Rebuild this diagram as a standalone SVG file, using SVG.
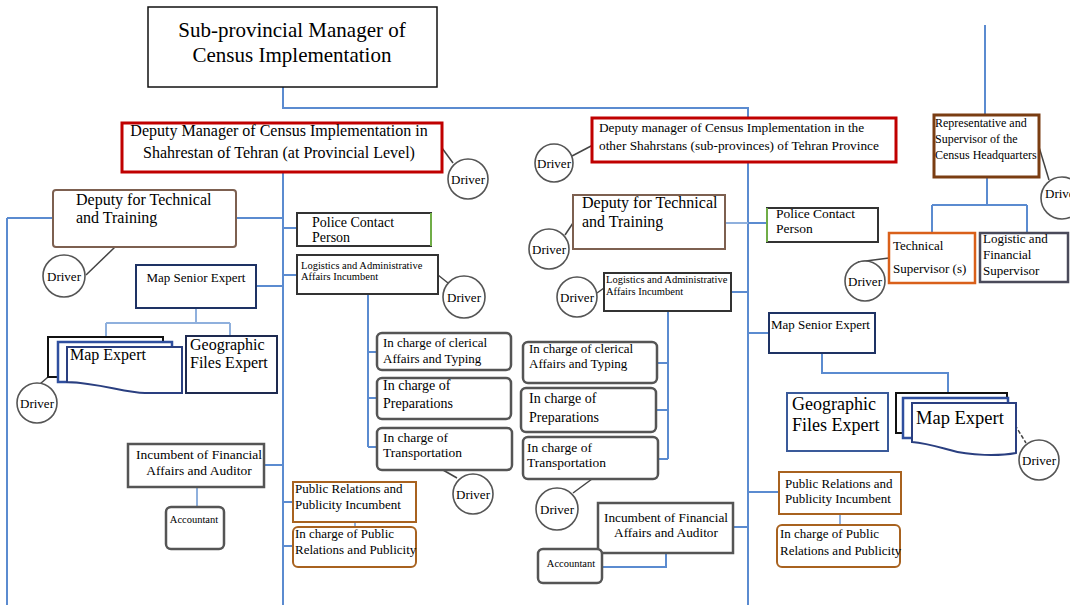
<svg xmlns="http://www.w3.org/2000/svg" width="1070" height="605" viewBox="0 0 1070 605">
<style>
text{font-family:"Liberation Serif","Times New Roman",serif;fill:#000}
.c{fill:none;stroke:#5b8bd0;stroke-width:2}
.cl{fill:none;stroke:#8fb0dd;stroke-width:2}
.dl{fill:none;stroke:#444;stroke-width:1.5}
.drv{fill:#fff;stroke:#555;stroke-width:1.6}
.dt{font-size:13px;text-anchor:middle}
.bx{fill:#fff;stroke:#555;stroke-width:2.5}
.red{fill:#fff;stroke:#c00000;stroke-width:3}
.brn{fill:#fff;stroke:#7d6050;stroke-width:2}
.navy{fill:#fff;stroke:#1e3264;stroke-width:2}
.org{fill:#fff;stroke:#a8621f;stroke-width:2}
.rnd{fill:#fff;stroke:#555;stroke-width:2.5}
</style>
<g id="connectors">
<path class="c" d="M283,87 V108 H748 V118"/>
<path class="c" d="M283,172 V605"/>
<path class="c" d="M748,162 V605"/>
<path class="c" d="M985,25 V115"/>
<path class="c" d="M987,177 V205 M932,205 H1027 M932,205 V233 M1027,205 V233"/>
<path class="c" d="M7,218 V605 M7,218 H53 M236,218 H283"/>
<path class="c" d="M283,228 H297 M283,275 H297 M256,286 H283"/>
<path class="cl" d="M196,308 V323 M106,323 H230 M106,323 V337 M230,323 V336"/>
<path class="c" d="M368,294 V447 M368,352 H377 M368,398 H377 M368,447 H377"/>
<path class="c" d="M264,465 H283"/>
<path class="cl" d="M197,487 V507"/>
<path class="c" d="M283,502 H293 M283,546 H293"/>
<path class="cl" d="M355,522 V527"/>
<path class="cl" d="M725,223 H748"/>
<path class="c" d="M731,292 H748 M748,223 H767 M748,333 H769"/>
<path class="c" d="M822,353 V373 H948 V393"/>
<path class="c" d="M668,311 V459 M657,363 H668 M656,410 H668 M658,459 H668"/>
<path class="c" d="M733,527 H748"/>
<path class="c" d="M666,553 V567 H602"/>
<path class="c" d="M748,492 H779"/>
<path class="cl" d="M840,514 V525"/>
<path class="dl" d="M115,247 L86,275"/>
<path class="dl" d="M48,377 L40,384"/>
<path class="dl" d="M442,148 L453,163"/>
<path class="dl" d="M438,275 L448,283"/>
<path class="dl" d="M443,470 L457,478"/>
<path class="dl" d="M572,156 L593,145"/>
<path class="dl" d="M573,223 L565,235"/>
<path class="dl" d="M604,288 L597,293"/>
<path class="dl" d="M592,479 L573,493"/>
<path class="dl" d="M1039,147 L1049,180"/>
<path class="dl" d="M889,258 L858,262"/>
<path class="dl" d="M1015,425 L1026,443" stroke-dasharray="4 2"/>
</g>
<g id="top"><rect x="148" y="7" width="289" height="80" fill="#fff" stroke="#111" stroke-width="1.5"/>
<text x="292" y="37" font-size="21" text-anchor="middle">Sub-provincial Manager of</text>
<text x="292" y="62" font-size="21" text-anchor="middle">Census Implementation</text></g>
<g id="deputy1"><rect class="red" x="122" y="123" width="320" height="49"/>
<text x="279" y="136" font-size="16" text-anchor="middle">Deputy Manager of Census Implementation in</text>
<text x="279" y="158" font-size="16" text-anchor="middle">Shahrestan of Tehran (at Provincial Level)</text></g>
<g id="deputy2"><rect class="red" x="592" y="118" width="304" height="44"/>
<text x="599" y="132" font-size="13.3">Deputy manager of Census Implementation in the</text>
<text x="599" y="150" font-size="13.3">other Shahrstans (sub-provinces) of Tehran Province</text></g>
<g id="rep"><rect x="934" y="115" width="105" height="62" fill="#fff" stroke="#7a3d12" stroke-width="3"/>
<text x="935" y="127" font-size="12">Representative and</text>
<text x="935" y="143" font-size="12">Supervisor of the</text>
<text x="935" y="159" font-size="12">Census Headquarters</text></g>
<g id="techsup"><rect x="889" y="233" width="86" height="50" fill="#fff" stroke="#d9601a" stroke-width="2.5"/>
<text x="893" y="250" font-size="13">Technical</text>
<text x="893" y="273" font-size="13">Supervisor (s)</text></g>
<g id="logfinsup"><rect x="980" y="233" width="88" height="49" fill="#fff" stroke="#4a4a5a" stroke-width="2.5"/>
<text x="983" y="243" font-size="13">Logistic and</text>
<text x="983" y="259" font-size="13">Financial</text>
<text x="983" y="275" font-size="13">Supervisor</text></g>
<g id="ldeptech"><rect class="brn" x="53" y="190" width="183" height="57" rx="3"/>
<text x="76" y="205" font-size="16">Deputy for Technical</text>
<text x="76" y="223" font-size="16">and Training</text></g>
<g id="lmapsenior"><rect class="navy" x="136" y="265" width="120" height="43"/>
<text x="196" y="282" font-size="13" text-anchor="middle">Map Senior Expert</text></g>
<g id="lmapexpert">
<rect x="48" y="337" width="115" height="40" fill="#fff" stroke="#111" stroke-width="2"/>
<rect x="58" y="342" width="114" height="40" fill="#fff" stroke="#2f4f9f" stroke-width="2.5"/>
<path d="M67,347 H182 V393 H145 C125,393 100,383 67,382 Z" fill="#fff" stroke="#2a3f80" stroke-width="2"/>
<text x="70" y="360" font-size="16">Map Expert</text></g>
<g id="lgeo"><rect x="186" y="336" width="91" height="57" fill="#fff" stroke="#1e2a50" stroke-width="2"/>
<text x="190" y="350" font-size="16">Geographic</text>
<text x="190" y="368" font-size="16">Files Expert</text></g>
<g id="lpolice"><rect x="297" y="213" width="134" height="33" fill="#fff" stroke="#333" stroke-width="2"/>
<path d="M431,213 V246" stroke="#70ad47" stroke-width="2"/>
<text x="312" y="227" font-size="14">Police Contact</text>
<text x="312" y="242" font-size="14">Person</text></g>
<g id="llogistics"><rect x="297" y="255" width="141" height="39" fill="#fff" stroke="#333" stroke-width="2"/>
<text x="301" y="269" font-size="10.5">Logistics and Administrative</text>
<text x="301" y="280" font-size="10.5">Affairs Incumbent</text></g>
<g id="lclerical"><rect class="rnd" x="377" y="333" width="134" height="37" rx="5"/>
<text x="383" y="347" font-size="13">In charge of clerical</text>
<text x="383" y="363" font-size="13">Affairs and Typing</text></g>
<g id="lprep"><rect class="rnd" x="377" y="378" width="134" height="41" rx="5"/>
<text x="383" y="390" font-size="14">In charge of</text>
<text x="383" y="408" font-size="14">Preparations</text></g>
<g id="ltrans"><rect class="rnd" x="377" y="428" width="135" height="42" rx="5"/>
<text x="383" y="442" font-size="13.5">In charge of</text>
<text x="383" y="457" font-size="13.5">Transportation</text></g>
<g id="lfin"><rect class="bx" x="128" y="444" width="136" height="43"/>
<text x="199" y="459" font-size="13.5" text-anchor="middle">Incumbent of Financial</text>
<text x="199" y="475" font-size="13.5" text-anchor="middle">Affairs and Auditor</text></g>
<g id="lacc"><rect class="rnd" x="166" y="507" width="58" height="42" rx="5"/>
<text x="194" y="523" font-size="10.5" text-anchor="middle">Accountant</text></g>
<g id="lpr"><rect class="org" x="293" y="482" width="123" height="40"/>
<text x="295" y="493" font-size="13">Public Relations and</text>
<text x="295" y="509" font-size="13">Publicity Incumbent</text></g>
<g id="lprc"><rect class="org" x="293" y="527" width="123" height="40" rx="5"/>
<text x="295" y="538" font-size="13">In charge of Public</text>
<text x="295" y="554" font-size="13">Relations and Publicity</text></g>
<g id="rdeptech"><rect class="brn" x="573" y="195" width="152" height="54"/>
<text x="582" y="208" font-size="16">Deputy for Technical</text>
<text x="582" y="227" font-size="16">and Training</text></g>
<g id="rlogistics"><rect x="604" y="273" width="127" height="38" fill="#fff" stroke="#333" stroke-width="2"/>
<text x="606" y="283" font-size="10.5">Logistics and Administrative</text>
<text x="606" y="295" font-size="10.5">Affairs Incumbent</text></g>
<g id="rclerical"><rect class="rnd" x="523" y="342" width="134" height="41" rx="5"/>
<text x="529" y="353" font-size="13">In charge of clerical</text>
<text x="529" y="368" font-size="13">Affairs and Typing</text></g>
<g id="rprep"><rect class="rnd" x="521" y="388" width="135" height="44" rx="5"/>
<text x="529" y="403" font-size="14">In charge of</text>
<text x="529" y="422" font-size="14">Preparations</text></g>
<g id="rtrans"><rect class="rnd" x="523" y="437" width="135" height="42" rx="5"/>
<text x="527" y="452" font-size="13.5">In charge of</text>
<text x="527" y="467" font-size="13.5">Transportation</text></g>
<g id="rfin"><rect class="bx" x="598" y="503" width="135" height="50"/>
<text x="666" y="522" font-size="13.3" text-anchor="middle">Incumbent of Financial</text>
<text x="666" y="537" font-size="13.3" text-anchor="middle">Affairs and Auditor</text></g>
<g id="racc"><rect class="rnd" x="538" y="549" width="64" height="34" rx="5"/>
<text x="571" y="567" font-size="10.5" text-anchor="middle">Accountant</text></g>
<g id="rpolice"><rect x="767" y="208" width="111" height="34" fill="#fff" stroke="#333" stroke-width="2"/>
<path d="M767,208 V242" stroke="#70ad47" stroke-width="2"/>
<text x="776" y="218" font-size="13.5">Police Contact</text>
<text x="776" y="233" font-size="13.5">Person</text></g>
<g id="rmapsenior"><rect class="navy" x="769" y="313" width="106" height="40"/>
<text x="771" y="329" font-size="13">Map Senior Expert</text></g>
<g id="rgeo"><rect x="787" y="393" width="101" height="58" fill="#fff" stroke="#3a5a9a" stroke-width="2"/>
<text x="792" y="410" font-size="18">Geographic</text>
<text x="792" y="431" font-size="18">Files Expert</text></g>
<g id="rmapexpert">
<rect x="896" y="393" width="111" height="40" fill="#fff" stroke="#111" stroke-width="2"/>
<rect x="903" y="398" width="105" height="40" fill="#fff" stroke="#2f4f9f" stroke-width="2.5"/>
<path d="M912,403 H1016 V453 C1000,456 970,456 950,450 C935,446 925,443 912,442 Z" fill="#fff" stroke="#2a3f80" stroke-width="2"/>
<text x="916" y="424" font-size="18.5">Map Expert</text></g>
<g id="rpr"><rect class="org" x="779" y="472" width="122" height="42"/>
<text x="785" y="488" font-size="13">Public Relations and</text>
<text x="785" y="503" font-size="13">Publicity Incumbent</text></g>
<g id="rprc"><rect class="org" x="777" y="525" width="123" height="42" rx="5"/>
<text x="780" y="538" font-size="13">In charge of Public</text>
<text x="780" y="555" font-size="13">Relations and Publicity</text></g>
<g id="drivers">
<g id="d1"><circle class="drv" cx="64" cy="276" r="21"/><text class="dt" x="64" y="280.5">Driver</text></g>
<g id="d2"><circle class="drv" cx="37" cy="403" r="20"/><text class="dt" x="37" y="407.5">Driver</text></g>
<g id="d3"><circle class="drv" cx="468" cy="179" r="20"/><text class="dt" x="468" y="183.5">Driver</text></g>
<g id="d4"><circle class="drv" cx="464" cy="297" r="21"/><text class="dt" x="464" y="301.5">Driver</text></g>
<g id="d5"><circle class="drv" cx="473" cy="494" r="20"/><text class="dt" x="473" y="498.5">Driver</text></g>
<g id="d6"><circle class="drv" cx="554" cy="163" r="19"/><text class="dt" x="554" y="167.5">Driver</text></g>
<g id="d7"><circle class="drv" cx="549" cy="249" r="20"/><text class="dt" x="549" y="253.5">Driver</text></g>
<g id="d8"><circle class="drv" cx="577" cy="297" r="20"/><text class="dt" x="577" y="301.5">Driver</text></g>
<g id="d9"><circle class="drv" cx="557" cy="509" r="21"/><text class="dt" x="557" y="513.5">Driver</text></g>
<g id="d10"><circle class="drv" cx="1062" cy="198" r="21"/><text class="dt" x="1062" y="197.5">Driver</text></g>
<g id="d11"><circle class="drv" cx="865" cy="281" r="20"/><text class="dt" x="865" y="286">Driver</text></g>
<g id="d12"><circle class="drv" cx="1039" cy="460" r="20"/><text class="dt" x="1039" y="464.5">Driver</text></g>
</g>
</svg>
